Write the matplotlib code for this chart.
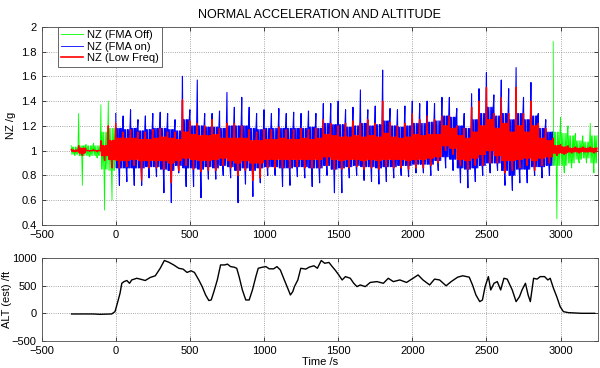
import numpy as np
import matplotlib
matplotlib.use("Agg")
import matplotlib.pyplot as plt
from matplotlib.ticker import FuncFormatter
from matplotlib.lines import Line2D

plt.rcParams['font.family'] = ['Liberation Sans', 'DejaVu Sans']

N = np.nan

# 50 s bins; each bin holds peak hi/lo and core hi/lo
bin_t = np.arange(-300, 3250, 50)

green_hi = [1.04, 1.30, 1.05, 1.06, 1.37, 1.40] + [N] * 59 + [1.88, 1.27, 1.20, 1.14, 1.12, 1.22]
green_lo = [0.96, 0.72, 0.95, 0.94, 0.52, 0.60] + [N] * 59 + [0.45, 0.82, 0.86, 0.90, 0.90, 0.82]
green_chi = [1.03, 1.04, 1.04, 1.04, 1.15, 1.18] + [N] * 59 + [1.15, 1.14, 1.12, 1.08, 1.07, 1.12]
green_clo = [0.97, 0.96, 0.96, 0.96, 0.85, 0.84] + [N] * 59 + [0.88, 0.88, 0.90, 0.93, 0.94, 0.90]

blue_hi = [N] * 6 + [
    1.30, 1.28, 1.33, 1.25, 1.28, 1.30, 1.31, 1.30, 1.25, 1.60,
    1.33, 1.57, 1.30, 1.30, 1.32, 1.47, 1.35, 1.43, 1.35, 1.30,
    1.33, 1.30, 1.34, 1.30, 1.31, 1.30, 1.32, 1.30, 1.38, 1.38,
    1.40, 1.33, 1.35, 1.49, 1.33, 1.36, 1.65, 1.34, 1.33, 1.36,
    1.40, 1.38, 1.40, 1.38, 1.43, 1.43, 1.34, 1.30, 1.46, 1.50,
    1.63, 1.45, 1.57, 1.50, 1.67, 1.43, 1.55, 1.30, 1.25] + [N] * 6
blue_lo = [N] * 6 + [
    0.72, 0.75, 0.72, 0.72, 0.78, 0.79, 0.66, 0.58, 0.82, 0.71,
    0.71, 0.62, 0.77, 0.77, 0.80, 0.78, 0.58, 0.73, 0.63, 0.74,
    0.80, 0.80, 0.71, 0.72, 0.79, 0.78, 0.71, 0.74, 0.80, 0.66,
    0.66, 0.78, 0.80, 0.76, 0.75, 0.73, 0.75, 0.78, 0.80, 0.79,
    0.82, 0.82, 0.80, 0.84, 0.86, 0.84, 0.74, 0.70, 0.75, 0.80,
    0.82, 0.84, 0.72, 0.68, 0.74, 0.74, 0.80, 0.78, 0.80] + [N] * 6
blue_chi = [N] * 6 + [
    1.18, 1.17, 1.18, 1.16, 1.17, 1.18, 1.18, 1.17, 1.16, 1.25,
    1.20, 1.20, 1.19, 1.19, 1.18, 1.20, 1.20, 1.20, 1.18, 1.17,
    1.18, 1.18, 1.18, 1.18, 1.18, 1.18, 1.19, 1.18, 1.22, 1.21,
    1.21, 1.19, 1.20, 1.22, 1.20, 1.21, 1.24, 1.20, 1.19, 1.20,
    1.22, 1.22, 1.23, 1.24, 1.28, 1.27, 1.20, 1.18, 1.25, 1.30,
    1.35, 1.28, 1.30, 1.25, 1.30, 1.25, 1.28, 1.18, 1.15] + [N] * 6
blue_clo = [N] * 6 + [
    0.86, 0.86, 0.86, 0.86, 0.87, 0.87, 0.85, 0.84, 0.88, 0.86,
    0.86, 0.85, 0.87, 0.86, 0.88, 0.87, 0.84, 0.86, 0.84, 0.86,
    0.87, 0.87, 0.86, 0.86, 0.87, 0.87, 0.86, 0.86, 0.88, 0.85,
    0.86, 0.87, 0.88, 0.87, 0.87, 0.86, 0.87, 0.87, 0.88, 0.88,
    0.89, 0.89, 0.89, 0.92, 0.95, 0.93, 0.86, 0.85, 0.86, 0.88,
    0.90, 0.90, 0.84, 0.80, 0.85, 0.85, 0.87, 0.87, 0.88] + [N] * 6

red_hi = [1.01, 1.04, 1.005, 1.01, 1.08, 1.20,
          1.22, 1.15, 1.17, 1.15, 1.15, 1.17, 1.18, 1.15, 1.15, 1.41,
          1.24, 1.22, 1.20, 1.25, 1.18, 1.22, 1.22, 1.20, 1.17, 1.15,
          1.17, 1.17, 1.19, 1.17, 1.17, 1.18, 1.17, 1.18, 1.25, 1.22,
          1.20, 1.22, 1.24, 1.22, 1.25, 1.22, 1.40, 1.23, 1.20, 1.22,
          1.30, 1.25, 1.28, 1.25, 1.28, 1.28, 1.20, 1.18, 1.35, 1.40,
          1.51, 1.30, 1.43, 1.30, 1.51, 1.30, 1.40, 1.22, 1.18,
          1.10, 1.05, 1.04, 1.03, 1.03, 1.03]
red_lo = [0.99, 0.96, 0.995, 0.99, 0.92, 0.86,
          0.86, 0.87, 0.88, 0.76, 0.86, 0.86, 0.85, 0.74, 0.84, 0.88,
          0.85, 0.83, 0.84, 0.84, 0.88, 0.86, 0.80, 0.84, 0.76, 0.78,
          0.86, 0.86, 0.86, 0.86, 0.87, 0.86, 0.86, 0.86, 0.88, 0.85,
          0.85, 0.86, 0.87, 0.85, 0.86, 0.85, 0.87, 0.86, 0.86, 0.85,
          0.86, 0.86, 0.88, 0.90, 1.00, 0.97, 0.88, 0.85, 0.88, 0.88,
          0.90, 0.90, 0.82, 0.84, 0.86, 0.88, 0.84, 0.88, 0.90,
          0.96, 0.97, 0.98, 0.98, 0.99, 0.98]
red_chi = [1.005, 1.02, 1.0, 1.0, 1.04, 1.08,
           1.10, 1.10, 1.10, 1.09, 1.09, 1.10, 1.11, 1.10, 1.09, 1.15,
           1.13, 1.12, 1.12, 1.13, 1.10, 1.10, 1.10, 1.10, 1.08, 1.08,
           1.09, 1.09, 1.10, 1.09, 1.09, 1.10, 1.09, 1.10, 1.13, 1.12,
           1.11, 1.11, 1.12, 1.11, 1.12, 1.11, 1.14, 1.11, 1.10, 1.11,
           1.13, 1.12, 1.13, 1.13, 1.20, 1.18, 1.12, 1.10, 1.15, 1.20,
           1.25, 1.18, 1.22, 1.15, 1.20, 1.15, 1.20, 1.10, 1.08,
           1.04, 1.03, 1.02, 1.02, 1.02, 1.02]
red_clo = [0.995, 0.98, 1.0, 1.0, 0.96, 0.93,
           0.92, 0.92, 0.93, 0.92, 0.92, 0.92, 0.92, 0.90, 0.92, 0.94,
           0.93, 0.92, 0.92, 0.93, 0.94, 0.92, 0.90, 0.92, 0.90, 0.90,
           0.93, 0.93, 0.93, 0.93, 0.93, 0.93, 0.93, 0.93, 0.95, 0.93,
           0.92, 0.93, 0.93, 0.92, 0.93, 0.92, 0.93, 0.93, 0.93, 0.92,
           0.93, 0.93, 0.94, 0.95, 1.04, 1.02, 0.93, 0.92, 0.94, 0.97,
           1.00, 0.96, 0.92, 0.92, 0.93, 0.94, 0.92, 0.94, 0.95,
           0.98, 0.98, 0.99, 0.99, 0.99, 0.99]

alt_t = [-298, -151, -106, -27, -5, 11, 29, 41, 56, 75, 93, 108, 142, 165, 199,
         233, 267, 300, 328, 357, 391, 425, 454, 481, 508, 531, 560, 583, 606,
         628, 644, 662, 685, 707, 735, 753, 775, 798, 816, 832, 854, 877, 900,
         922, 945, 961, 990, 1013, 1035, 1065, 1087, 1110, 1137, 1160, 1178,
         1194, 1205, 1228, 1248, 1282, 1304, 1337, 1360, 1386, 1409, 1438, 1460,
         1482, 1504, 1527, 1549, 1582, 1605, 1627, 1649, 1683, 1716, 1761, 1805,
         1838, 1872, 1916, 1961, 2005, 2039, 2072, 2117, 2150, 2184, 2228, 2262,
         2306, 2340, 2384, 2406, 2429, 2455, 2473, 2491, 2513, 2529, 2551, 2573,
         2596, 2618, 2640, 2674, 2700, 2723, 2740, 2763, 2781, 2796, 2818, 2841,
         2863, 2892, 2914, 2930, 2952, 2974, 2997, 3019, 3052, 3141, 3230]
alt_ft = [-12, -12, -18, -12, 30, 180, 360, 540, 570, 590, 540, 600, 630, 615, 590,
          645, 675, 810, 950, 920, 870, 810, 795, 735, 765, 735, 600, 480, 330,
          230, 240, 390, 600, 870, 870, 885, 840, 830, 810, 660, 420, 240, 240,
          420, 660, 810, 830, 840, 800, 800, 840, 780, 600, 450, 330,
          390, 480, 600, 810, 795, 830, 855, 810, 950, 900, 915, 840,
          770, 690, 600, 660, 630, 540, 480, 510, 480, 555, 570, 540,
          630, 570, 600, 555, 630, 690, 600, 510, 615, 600, 495, 570,
          650, 675, 650, 510, 330, 210, 240, 480, 660, 420, 540, 570,
          420, 630, 615, 420, 210, 300, 420, 540, 330, 210, 630, 615,
          660, 660, 600, 630, 450, 300, 120, 30, 12, 0, 0]


def zigzag(hi, lo, chi, clo):
    # walk through each bin: one peak, one trough, the rest inside the core band
    t, v = [], []
    for t0, a, b, c, d in zip(bin_t, hi, lo, chi, clo):
        seq = [a, d, c, d, c, d, b, c, d, c, d, c]
        for k, val in enumerate(seq):
            t.append(t0 + k * 50 / len(seq))
            v.append(val)
    return np.array(t), np.array(v)


fmt = FuncFormatter(lambda v, p: '%g' % v)

fig = plt.figure(figsize=(6, 3.68), dpi=100)
ax1 = fig.add_axes([0.0693, 0.3886, 0.9268, 0.5388])
ax2 = fig.add_axes([0.0693, 0.0731, 0.9268, 0.2266])

gt, gv = zigzag(green_hi, green_lo, green_chi, green_clo)
bt, bv = zigzag(blue_hi, blue_lo, blue_chi, blue_clo)
rt, rv = zigzag(red_hi, red_lo, red_chi, red_clo)
ax1.plot(gt, gv, color=(0, 1, 0), lw=0.6)
ax1.plot(bt, bv, color=(0, 0, 1), lw=0.8)
ax1.plot(rt, rv, color=(1, 0, 0), lw=1.0)

ax1.set_xlim(-500, 3250)
ax1.set_ylim(0.4, 2)
ax1.set_yticks(np.arange(0.4, 2.01, 0.2))
ax1.set_xticks(np.arange(-500, 3001, 500))
ax1.yaxis.set_major_formatter(fmt)
ax1.set_ylabel('NZ /g', fontsize=8, labelpad=4)
ax1.set_title('NORMAL ACCELERATION AND ALTITUDE', fontsize=9, pad=6)

handles = [Line2D([], [], color=(0, 1, 0), lw=0.6),
           Line2D([], [], color=(0, 0, 1), lw=0.6),
           Line2D([], [], color=(1, 0, 0), lw=1.2)]
leg = ax1.legend(handles, ['NZ (FMA Off)', 'NZ (FMA on)', 'NZ (Low Freq)'],
                 loc='upper left', bbox_to_anchor=(0.029, 1.0), fontsize=8,
                 fancybox=False, edgecolor='0.3', framealpha=1, borderaxespad=0,
                 handlelength=2.0, labelspacing=0.15, borderpad=0.3, handletextpad=0.3)
leg.get_frame().set_linewidth(0.6)

ax2.plot(alt_t, alt_ft, color='black', lw=1.0)
ax2.set_xlim(-500, 3250)
ax2.set_ylim(-500, 1000)
ax2.set_yticks([-500, 0, 500, 1000])
ax2.set_xticks(np.arange(-500, 3001, 500))
ax2.set_ylabel('ALT (est) /ft', fontsize=8, labelpad=0)
ax2.set_xlabel('Time /s', fontsize=8, labelpad=1)

for ax in (ax1, ax2):
    ax.grid(True, linestyle=':', color='0.55', linewidth=0.6)
    ax.tick_params(direction='in', top=True, right=True, length=3, labelsize=8, width=0.5)
    for s in ax.spines.values():
        s.set_linewidth(0.6)
        s.set_color('0.3')

fig.savefig('out.png', dpi=100)
